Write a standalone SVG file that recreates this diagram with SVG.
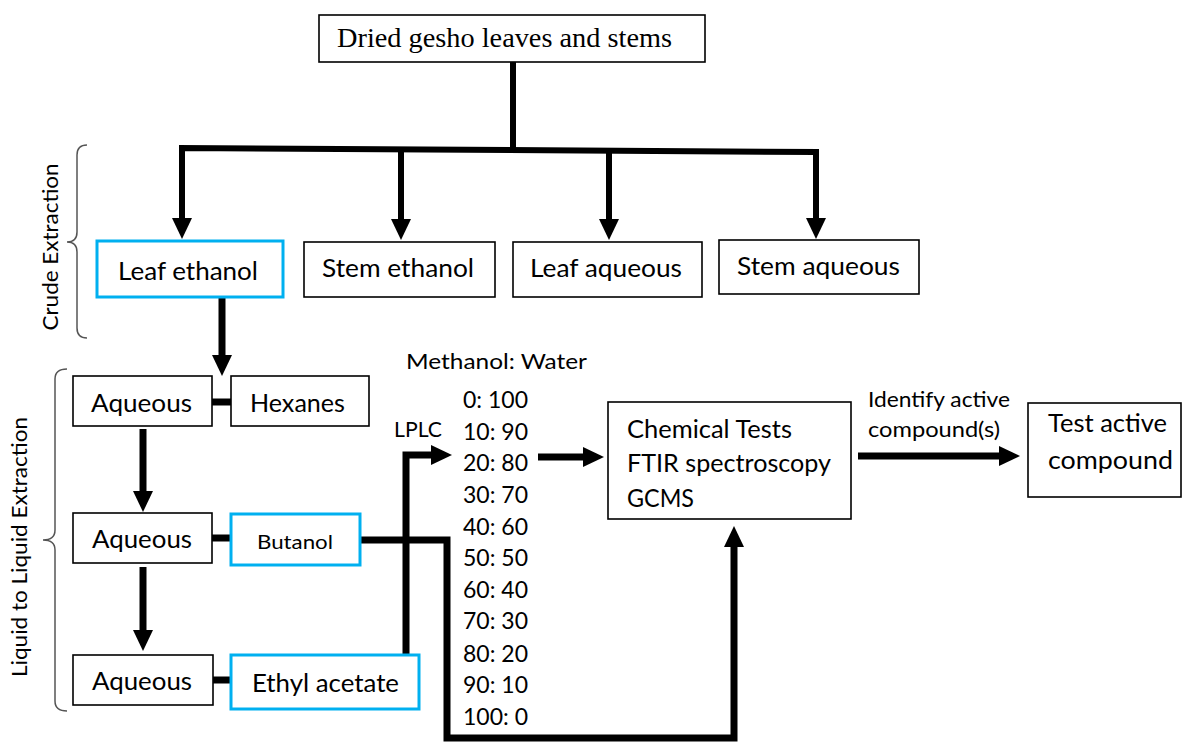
<svg xmlns="http://www.w3.org/2000/svg" width="1183" height="742" viewBox="0 0 1183 742">
<defs>
<style>
.box{fill:#fff;stroke:#000;stroke-width:1.6}
.blue{fill:#fff;stroke:#00B0F0;stroke-width:3}
.t{font-family:Lato,"Open Sans",sans-serif;fill:#000}
.serif{font-family:"Liberation Serif","Times New Roman",serif;fill:#000}
.ln{fill:none;stroke:#000;stroke-width:7;stroke-linejoin:miter;stroke-linecap:butt}
.lt{fill:none;stroke:#000;stroke-width:6;stroke-linejoin:miter;stroke-linecap:butt}
.brace{fill:none;stroke:#555;stroke-width:1.5}
</style>
<marker id="ah" viewBox="0 0 21 20" refX="1" refY="10" markerWidth="21" markerHeight="20" markerUnits="userSpaceOnUse" orient="auto">
<path d="M0,0 L21,10 L0,20 z" fill="#000"/>
</marker>
</defs>
<rect width="1183" height="742" fill="#fff"/>

<g id="connectors">
<path class="lt" d="M513,62 V149"/>
<path class="lt" d="M182,219 V148 L816,152 V219" marker-end="url(#ah)"/>
<path class="lt" d="M182,160 V219" marker-end="url(#ah)"/>
<path class="lt" d="M401,150 V220" marker-end="url(#ah)"/>
<path class="lt" d="M609,151 V220" marker-end="url(#ah)"/>
<path class="ln" d="M222,297 V356" marker-end="url(#ah)"/>
<path class="ln" d="M212,402 H231"/>
<path class="ln" d="M143,429 V492" marker-end="url(#ah)"/>
<path class="ln" d="M212,538 H231"/>
<path class="ln" d="M143,567 V631" marker-end="url(#ah)"/>
<path class="ln" d="M213,680 H231"/>
<path class="ln" d="M406,655 V455 H432" marker-end="url(#ah)"/>
<path class="ln" d="M360,540 H447 V738 H734 V546" marker-end="url(#ah)"/>
<path class="ln" d="M538,457 H584" marker-end="url(#ah)"/>
<path class="ln" d="M858,456 H1000" marker-end="url(#ah)"/>
</g>

<g id="braces">
<path class="brace" d="M87,145 Q77,145 77,155 L77,232 Q77,242 67,242 Q77,242 77,252 L77,328 Q77,338 87,338"/>
<text class="t" font-size="22" text-anchor="middle" transform="translate(58,247) rotate(-90)" textLength="167" lengthAdjust="spacingAndGlyphs">Crude Extraction</text>
<path class="brace" d="M67,369 Q55,369 55,379 L55,530 Q55,540 43,540 Q55,540 55,550 L55,701 Q55,711 67,711"/>
<text class="t" font-size="22" text-anchor="middle" transform="translate(27,547) rotate(-90)" textLength="260" lengthAdjust="spacingAndGlyphs">Liquid to Liquid Extraction</text>
</g>

<g id="n-dried">
<rect class="box" x="319" y="15" width="386" height="47"/>
<text class="serif" x="337" y="47" font-size="27" textLength="335" lengthAdjust="spacingAndGlyphs">Dried gesho leaves and stems</text>
</g>
<g id="n-leaf-ethanol">
<rect class="blue" x="97" y="241" width="186" height="56"/>
<text class="t" x="118" y="280" font-size="25" textLength="140" lengthAdjust="spacingAndGlyphs">Leaf ethanol</text>
</g>
<g id="n-stem-ethanol">
<rect class="box" x="304" y="242" width="191" height="55"/>
<text class="t" x="322" y="277" font-size="25" textLength="152" lengthAdjust="spacingAndGlyphs">Stem ethanol</text>
</g>
<g id="n-leaf-aqueous">
<rect class="box" x="513" y="242" width="189" height="55"/>
<text class="t" x="530" y="277" font-size="25" textLength="152" lengthAdjust="spacingAndGlyphs">Leaf aqueous</text>
</g>
<g id="n-stem-aqueous">
<rect class="box" x="719" y="240" width="200" height="54"/>
<text class="t" x="737" y="275" font-size="25" textLength="163" lengthAdjust="spacingAndGlyphs">Stem aqueous</text>
</g>

<g id="n-aqueous1">
<rect class="box" x="73" y="376" width="139" height="50"/>
<text class="t" x="91" y="412" font-size="25" textLength="101" lengthAdjust="spacingAndGlyphs">Aqueous</text>
</g>
<g id="n-hexanes">
<rect class="box" x="231" y="376" width="138" height="50"/>
<text class="t" x="250" y="412" font-size="25" textLength="95" lengthAdjust="spacingAndGlyphs">Hexanes</text>
</g>
<g id="n-aqueous2">
<rect class="box" x="73" y="513" width="139" height="50"/>
<text class="t" x="92" y="548" font-size="25" textLength="100" lengthAdjust="spacingAndGlyphs">Aqueous</text>
</g>
<g id="n-butanol">
<rect class="blue" x="231" y="514" width="129" height="51"/>
<text class="t" x="257" y="549" font-size="20" textLength="76" lengthAdjust="spacingAndGlyphs">Butanol</text>
</g>
<g id="n-aqueous3">
<rect class="box" x="73" y="655" width="140" height="50"/>
<text class="t" x="92" y="690" font-size="25" textLength="100" lengthAdjust="spacingAndGlyphs">Aqueous</text>
</g>
<g id="n-ethyl">
<rect class="blue" x="231" y="655" width="188" height="54"/>
<text class="t" x="252" y="692" font-size="25" textLength="147" lengthAdjust="spacingAndGlyphs">Ethyl acetate</text>
</g>

<g id="labels">
<text class="t" x="394" y="437" font-size="21" textLength="48" lengthAdjust="spacingAndGlyphs">LPLC</text>
<text class="t" x="406" y="369" font-size="21" textLength="181" lengthAdjust="spacingAndGlyphs">Methanol: Water</text>
<text class="t" x="868" y="407" font-size="21" textLength="142" lengthAdjust="spacingAndGlyphs">Identify active</text>
<text class="t" x="868" y="437" font-size="21" textLength="132" lengthAdjust="spacingAndGlyphs">compound(s)</text>
</g>

<g id="n-ratios" class="t" font-size="23">
<text x="463" y="408" textLength="65" lengthAdjust="spacingAndGlyphs">0: 100</text>
<text x="463" y="440" textLength="65" lengthAdjust="spacingAndGlyphs">10: 90</text>
<text x="463" y="471" textLength="65" lengthAdjust="spacingAndGlyphs">20: 80</text>
<text x="463" y="503" textLength="65" lengthAdjust="spacingAndGlyphs">30: 70</text>
<text x="463" y="535" textLength="65" lengthAdjust="spacingAndGlyphs">40: 60</text>
<text x="463" y="566" textLength="65" lengthAdjust="spacingAndGlyphs">50: 50</text>
<text x="463" y="598" textLength="65" lengthAdjust="spacingAndGlyphs">60: 40</text>
<text x="463" y="629" textLength="65" lengthAdjust="spacingAndGlyphs">70: 30</text>
<text x="463" y="662" textLength="65" lengthAdjust="spacingAndGlyphs">80: 20</text>
<text x="463" y="693" textLength="65" lengthAdjust="spacingAndGlyphs">90: 10</text>
<text x="463" y="725" textLength="65" lengthAdjust="spacingAndGlyphs">100: 0</text>
</g>

<g id="n-chemical">
<rect class="box" x="608" y="402" width="243" height="117"/>
<text class="t" x="627" y="438" font-size="25" textLength="165" lengthAdjust="spacingAndGlyphs">Chemical Tests</text>
<text class="t" x="627" y="472" font-size="25" textLength="204" lengthAdjust="spacingAndGlyphs">FTIR spectroscopy</text>
<text class="t" x="627" y="507" font-size="25" textLength="67" lengthAdjust="spacingAndGlyphs">GCMS</text>
</g>
<g id="n-test">
<rect class="box" x="1028" y="403" width="153" height="94"/>
<text class="t" x="1048" y="432" font-size="25" textLength="119" lengthAdjust="spacingAndGlyphs">Test active</text>
<text class="t" x="1048" y="469" font-size="25" textLength="125" lengthAdjust="spacingAndGlyphs">compound</text>
</g>
</svg>
